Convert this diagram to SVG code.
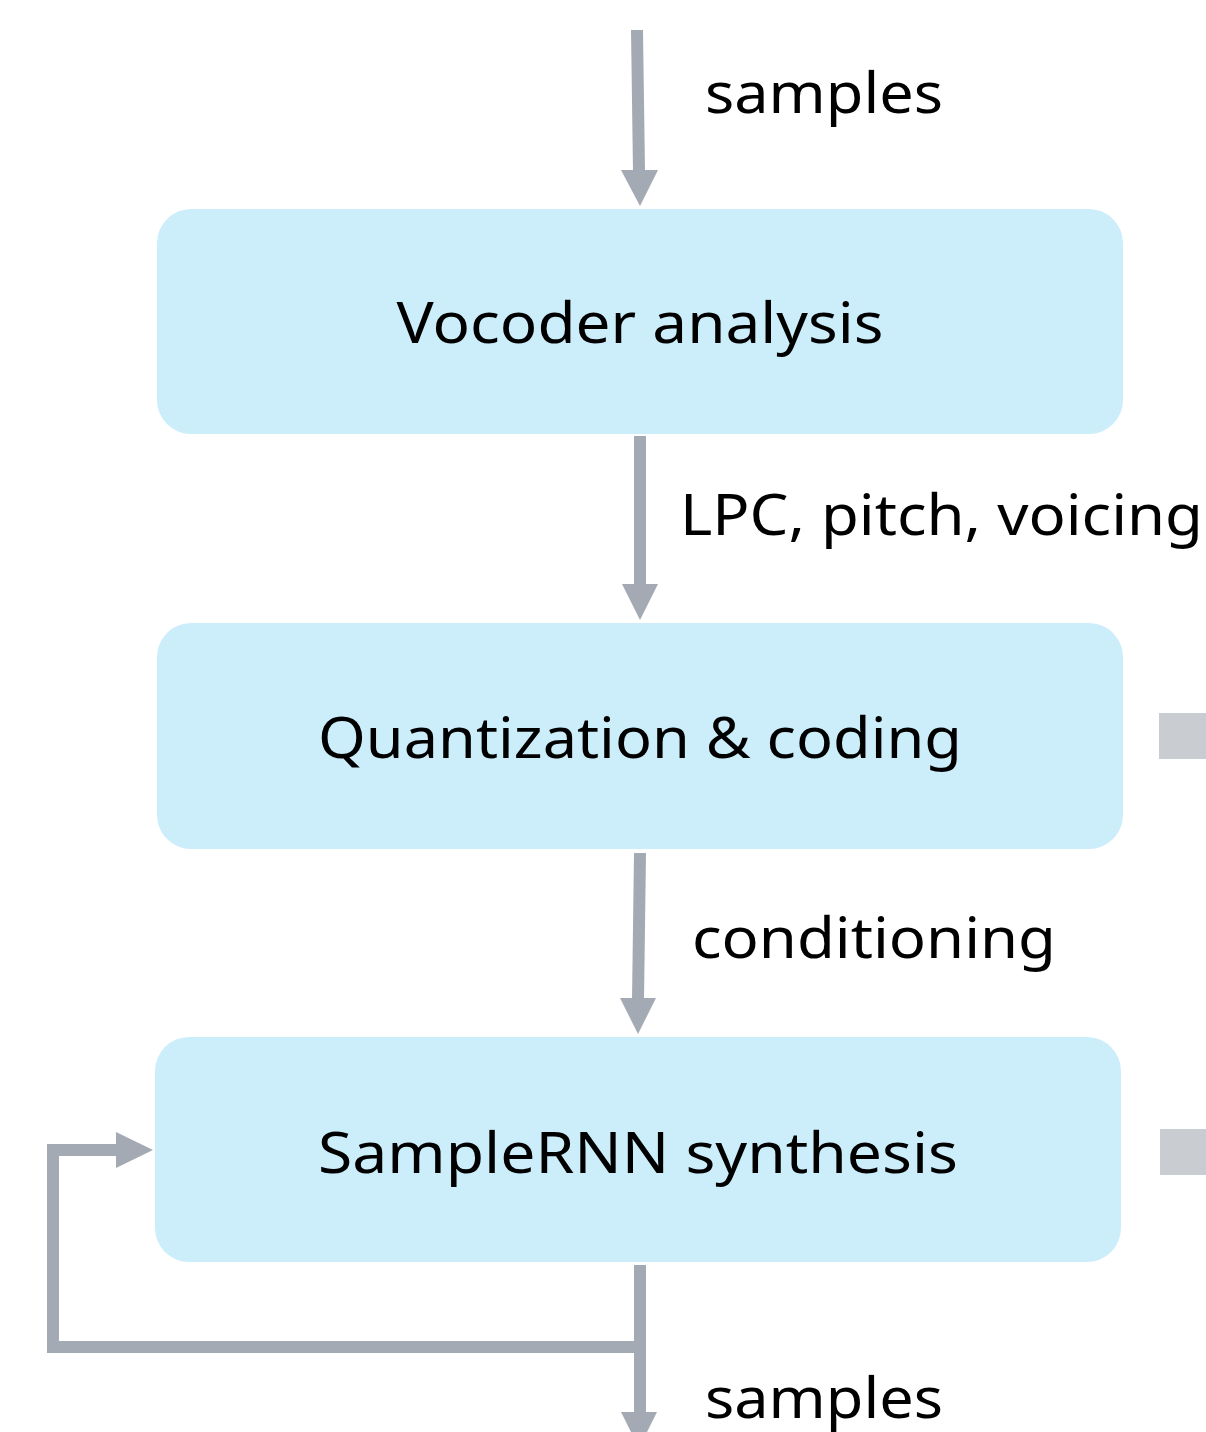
<svg xmlns="http://www.w3.org/2000/svg" width="1206" height="1432" viewBox="0 0 1206 1432">
  <style>
    .node rect { fill: #cceefb; }
    .label { font-family: "Noto Sans", "Open Sans", sans-serif; font-size: 57px; fill: #000; }
    .node text { text-anchor: middle; }
    .wire { fill: none; stroke: #a4aab3; stroke-width: 12; }
    .head { fill: #a4aab3; }
    .side { fill: #c9ccd1; }
  </style>
  <rect width="1206" height="1432" fill="#ffffff"/>

  <!-- connectors -->
  <g id="connectors">
    <!-- input samples -->
    <path class="wire" d="M637 30 L639 172"/>
    <polygon class="head" points="621,170 658,170 640,206"/>
    <!-- analysis to quantization -->
    <path class="wire" d="M640 436 L640 586"/>
    <polygon class="head" points="622,584 658,584 640,620"/>
    <!-- quantization to synthesis -->
    <path class="wire" d="M640 853 L638 1000"/>
    <polygon class="head" points="620,998 656,998 638,1034"/>
    <!-- output samples -->
    <path class="wire" d="M640 1265 L640 1432"/>
    <polygon class="head" points="621,1412 657,1412 639,1448"/>
    <!-- feedback loop -->
    <path class="wire" d="M640 1347 L53 1347 L53 1150 L118 1150"/>
    <polygon class="head" points="116,1132 116,1168 153,1150"/>
    <!-- edge labels -->
    <text class="label" x="705" y="113" textLength="238" lengthAdjust="spacingAndGlyphs">samples</text>
    <text class="label" x="680" y="535" textLength="523" lengthAdjust="spacingAndGlyphs">LPC, pitch, voicing</text>
    <text class="label" x="692" y="958" textLength="364" lengthAdjust="spacingAndGlyphs">conditioning</text>
    <text class="label" x="705" y="1418" textLength="238" lengthAdjust="spacingAndGlyphs">samples</text>
  </g>

  <g id="vocoder-analysis" class="node">
    <rect x="157" y="209" width="966" height="225" rx="34"/>
    <text class="label" x="640" y="343" textLength="487" lengthAdjust="spacingAndGlyphs">Vocoder analysis</text>
  </g>

  <g id="quantization-coding" class="node">
    <rect x="157" y="623" width="966" height="226" rx="34"/>
    <text class="label" x="640" y="758" textLength="644" lengthAdjust="spacingAndGlyphs">Quantization &amp; coding</text>
  </g>

  <g id="samplernn-synthesis" class="node">
    <rect x="155" y="1037" width="966" height="225" rx="34"/>
    <text class="label" x="638" y="1173" textLength="640" lengthAdjust="spacingAndGlyphs">SampleRNN synthesis</text>
  </g>

  <!-- partially visible markers at the right edge -->
  <rect class="side" x="1159" y="713" width="60" height="46"/>
  <rect class="side" x="1160" y="1129" width="60" height="46"/>
</svg>
